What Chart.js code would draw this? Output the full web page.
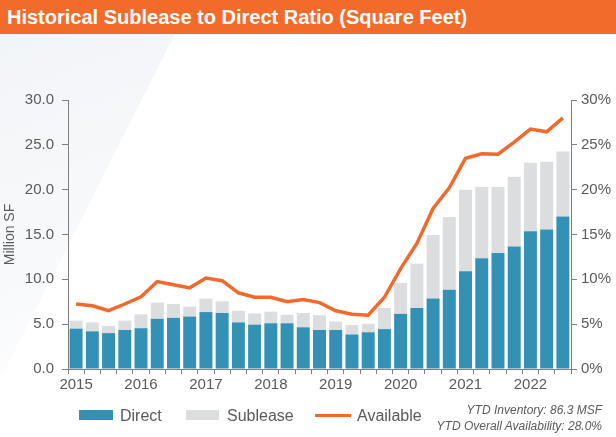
<!DOCTYPE html>
<html>
<head>
<meta charset="utf-8">
<script src="https://cdn.jsdelivr.net/npm/chart.js@4.4.0/dist/chart.umd.min.js"></script>
<style>
  html, body { margin: 0; padding: 0; background: #fff; }
  body { width: 616px; height: 437px; position: relative; overflow: hidden;
         font-family: "Liberation Sans", Arial, sans-serif; }
  #shade { position: absolute; left: 0; top: 34px; width: 180px; height: 346px;
           background: linear-gradient(160deg, #f2f5f8 0%, #f8f9fb 60%, #ffffff 100%);
           clip-path: polygon(0 0, 175px 0, 0 346px); }
  #banner { position: absolute; left: 0; top: 0; width: 616px; height: 34px;
            background: #f36b2a; color: #fff; font-weight: bold; font-size: 20px;
            line-height: 34px; padding-left: 7px; box-sizing: border-box; }
  #wrap { position: absolute; left: 0; top: 0; width: 616px; height: 437px; }
  .leg { position: absolute; top: 405px; font-size: 16px; color: #595959; line-height: 22px; }
  .sw { position: absolute; }
  .note { position: absolute; right: 14px; font-size: 12px; font-style: italic; color: #595959; text-align: right; }
</style>
</head>
<body>
<div id="shade"></div>
<div id="banner">Historical Sublease to Direct Ratio (Square Feet)</div>
<div id="wrap"><canvas id="myChart" width="616" height="437"></canvas></div>

<div class="sw" style="left:79px;top:410px;width:34px;height:10px;background:#3391b5"></div>
<div class="leg" style="left:120px">Direct</div>
<div class="sw" style="left:186px;top:410px;width:33px;height:10px;background:#dcddde"></div>
<div class="leg" style="left:227px">Sublease</div>
<div class="sw" style="left:315px;top:414px;width:36px;height:3px;background:#f26a2b"></div>
<div class="leg" style="left:357px">Available</div>
<div class="note" style="top:403px">YTD Inventory: 86.3 MSF</div>
<div class="note" style="top:419px">YTD Overall Availability: 28.0%</div>

<script>
// quarterly, 2015 Q1 .. 2022 Q3
var quarters = ["2015 Q1","2015 Q2","2015 Q3","2015 Q4","2016 Q1","2016 Q2","2016 Q3","2016 Q4",
                "2017 Q1","2017 Q2","2017 Q3","2017 Q4","2018 Q1","2018 Q2","2018 Q3","2018 Q4",
                "2019 Q1","2019 Q2","2019 Q3","2019 Q4","2020 Q1","2020 Q2","2020 Q3","2020 Q4",
                "2021 Q1","2021 Q2","2021 Q3","2021 Q4","2022 Q1","2022 Q2","2022 Q3"]
var yearLabels = ["2015","2016","2017","2018","2019","2020","2021","2022"]

// million SF
var direct = [4.5,4.2,4.0,4.35,4.55,5.6,5.7,5.85,6.35,6.25,5.2,4.95,5.1,5.1,4.65,4.35,
              4.35,3.85,4.1,4.45,6.15,6.8,7.85,8.85,10.9,12.35,12.95,13.65,15.35,15.55,17.0]
var sublease = [0.9,1.0,0.8,1.05,1.55,1.8,1.55,1.1,1.5,1.3,1.3,1.25,1.3,0.95,1.6,1.65,
                0.95,1.05,0.95,2.35,3.45,4.95,7.1,8.1,9.1,7.95,7.35,7.8,7.65,7.55,7.25]
// percent
var available = [7.25,7.05,6.5,7.25,8.05,9.75,9.4,9.05,10.15,9.85,8.5,8.0,8.0,7.5,7.75,7.4,
                 6.5,6.1,6.0,8.0,11.2,14.0,17.9,20.2,23.5,24.0,23.95,25.3,26.75,26.45,28.0]

var tickFont = {family: "Liberation Sans", size: 15}
var axisGray = '#7f7f7f'
var textGray = '#595959'

var ctx = document.getElementById('myChart').getContext('2d');

var chart = new Chart(ctx, {
    type: 'bar',
    data: {
        labels: quarters,
        datasets: [{
            type: 'line',
            label: 'Available',
            data: available,
            yAxisID: 'y1',
            borderColor: '#f26a2b',
            backgroundColor: '#f26a2b',
            borderWidth: 3.5,
            pointRadius: 0,
            tension: 0
        }, {
            label: 'Direct',
            data: direct,
            yAxisID: 'y',
            backgroundColor: '#3391b5',
            barPercentage: 0.8,
            categoryPercentage: 1.0
        }, {
            label: 'Sublease',
            data: sublease,
            yAxisID: 'y',
            backgroundColor: '#dcddde',
            barPercentage: 0.8,
            categoryPercentage: 1.0
        }]
    },
    options: {
        responsive: false,
        animation: false,
        devicePixelRatio: 1,
        layout: {padding: {top: 100, left: 0, right: 0, bottom: 0}},
        plugins: {legend: {display: false}, tooltip: {enabled: false}},
        scales: {
            x: {
                stacked: true,
                grid: {drawOnChartArea: false, color: axisGray, tickLength: 5, offset: true},
                border: {color: axisGray},
                ticks: {
                    autoSkip: false, maxRotation: 0, padding: 2,
                    color: textGray, font: tickFont,
                    callback: function(v, i) { return i % 4 === 0 ? yearLabels[i / 4] : ''; }
                },
                afterFit: function(s) { s.height = 68; }
            },
            y: {
                stacked: true,
                position: 'left',
                min: 0, max: 30,
                grid: {drawOnChartArea: false, color: axisGray, tickLength: 6},
                border: {color: axisGray},
                ticks: {stepSize: 5, padding: 8, color: textGray, font: tickFont,
                        callback: function(v) { return v.toFixed(1); }},
                title: {display: true, text: 'Million SF', color: textGray,
                        font: {family: "Liberation Sans", size: 14}, padding: {top: 2, bottom: 0}},
                afterFit: function(s) { s.width = 68; }
            },
            y1: {
                position: 'right',
                min: 0, max: 30,
                grid: {drawOnChartArea: false, color: axisGray, tickLength: 6},
                border: {color: axisGray},
                ticks: {stepSize: 5, padding: 4, color: textGray, font: tickFont,
                        callback: function(v) { return v + '%'; }},
                afterFit: function(s) { s.width = 45; }
            }
        }
    }
});
</script>
</body>
</html>
